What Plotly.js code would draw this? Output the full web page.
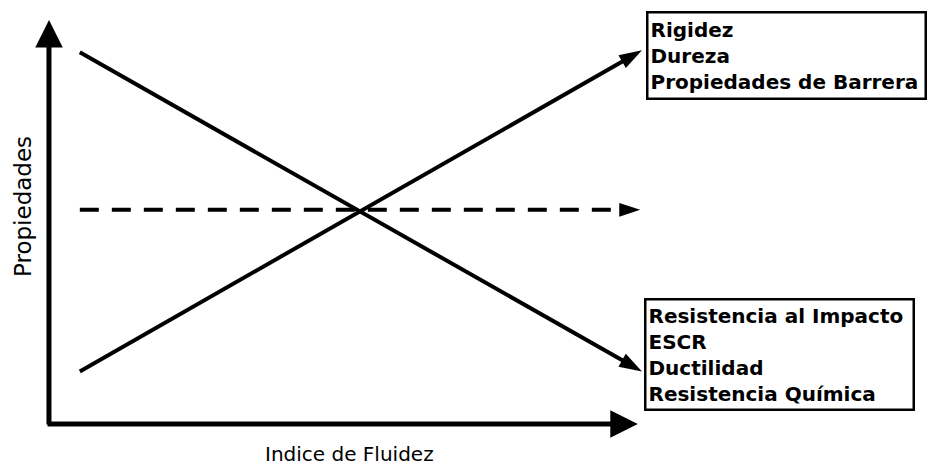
<!DOCTYPE html>
<html>
<head>
<meta charset="utf-8">
<script src="https://cdn.plot.ly/plotly-3.0.1.min.js"></script>
<style>
  html, body { margin: 0; padding: 0; background: #fff; }
  #root { width: 930px; height: 466px; }
</style>
</head>
<body>
<div id="root"></div>
<script>
// x: indice de fluidez (0 = origen, 10 = punta de flecha), y: propiedades
var fluidez = [0.52, 10.0];
var rigidez = [1.3, 9.25];      // sube con el indice de fluidez
var impacto = [9.2, 1.3];       // baja con el indice de fluidez
var neutro = [5.3, 5.3];        // linea discontinua
var neutroX = [0.52, 9.97];

var ejeX = [-0.05, 9.93];
var ejeY = [-0.05, 10.0];

var tituloX = 'Indice de Fluidez';
var tituloY = 'Propiedades';
var grupoArriba = ['Rigidez', 'Dureza', 'Propiedades de Barrera'];
var grupoAbajo = ['Resistencia al Impacto', 'ESCR', 'Ductilidad', 'Resistencia Química'];

window.onload = buildChart;

function arrowTrace(x, y, width, head, dash) {
    return {
        x: x,
        y: y,
        type: 'scatter',
        mode: 'lines+markers',
        cliponaxis: false,
        hoverinfo: 'skip',
        line: {color: '#000', width: width, dash: dash || 'solid'},
        marker: {
            symbol: 'arrow', size: [0, head], angleref: 'previous',
            color: '#000', opacity: 1, line: {width: 0}
        }
    };
}

// axis arrows drawn as annotation arrows (filled, wide head)
function axisArrow(x0, y0, x1, y1) {
    return {
        text: '',
        x: x1, y: y1, ax: x0, ay: y0,
        xref: 'x', yref: 'y', axref: 'x', ayref: 'y',
        showarrow: true,
        arrowhead: 2, arrowsize: 1.1, arrowwidth: 5,
        arrowcolor: '#000', standoff: 0, startstandoff: 0
    };
}

function buildChart() {
    var data = [
        arrowTrace(fluidez, impacto, 4, 24),
        arrowTrace(fluidez, rigidez, 4, 24),
        arrowTrace(neutroX, neutro, 4, 22, '19px,13px')
    ];

    var boxFont = {family: 'DejaVu Sans', size: 20, color: '#000'};

    var layout = {
        width: 930,
        height: 466,
        margin: {l: 0, r: 0, t: 0, b: 0},
        showlegend: false,
        paper_bgcolor: '#fff',
        plot_bgcolor: '#fff',
        xaxis: {range: [-0.826, 14.857], visible: false, fixedrange: true},
        yaxis: {range: [-1.04, 10.495], visible: false, fixedrange: true},
        annotations: [
            axisArrow(0, ejeY[0], 0, ejeY[1]),
            axisArrow(ejeX[0], 0, ejeX[1], 0),
            {
                text: '<b>' + grupoArriba.join('<br>') + '</b>',
                xref: 'paper', yref: 'paper',
                x: 646 / 930, y: 1 - 11 / 466,
                xanchor: 'left', yanchor: 'top',
                align: 'left', showarrow: false,
                font: boxFont,
                bordercolor: '#000', borderwidth: 2.5, borderpad: 2,
                width: 272, height: 80
            },
            {
                text: '<b>' + grupoAbajo.join('<br>') + '</b>',
                xref: 'paper', yref: 'paper',
                x: 644 / 930, y: 1 - 298 / 466,
                xanchor: 'left', yanchor: 'top',
                align: 'left', showarrow: false,
                font: boxFont,
                bordercolor: '#000', borderwidth: 2.5, borderpad: 2,
                width: 262, height: 104
            },
            {
                text: tituloX,
                xref: 'paper', yref: 'paper',
                x: 349 / 930, y: 1 - 454 / 466,
                xanchor: 'center', yanchor: 'middle',
                showarrow: false,
                font: {family: 'DejaVu Sans', size: 20, color: '#000'}
            },
            {
                text: tituloY,
                xref: 'paper', yref: 'paper',
                x: 23 / 930, y: 1 - 207 / 466,
                xanchor: 'center', yanchor: 'middle',
                textangle: -90, showarrow: false,
                font: {family: 'DejaVu Sans', size: 23, color: '#000'}
            }
        ]
    };

    Plotly.newPlot('root', data, layout, {staticPlot: true});
}
</script>
</body>
</html>
